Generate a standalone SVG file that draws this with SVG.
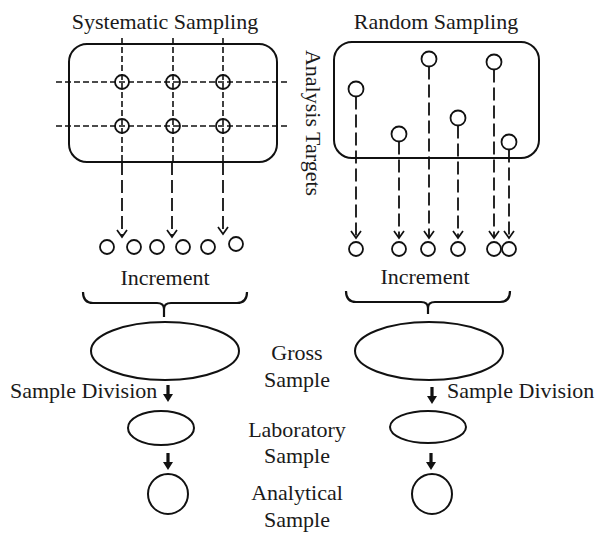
<svg xmlns="http://www.w3.org/2000/svg" xmlns:xlink="http://www.w3.org/1999/xlink" width="601" height="535" viewBox="0 0 601 535">
<style>
text{font-family:"Liberation Serif","Times New Roman",serif;font-size:22px;fill:#1a1a1a;}
.c{text-anchor:middle;}
.shape{fill:none;stroke:#111;stroke-width:2;}
.pt{fill:none;stroke:#111;stroke-width:1.8;}
.grid{fill:none;stroke:#111;stroke-width:1.6;stroke-dasharray:6 3;}
.drop{fill:none;stroke:#111;stroke-width:1.8;stroke-dasharray:13 5;marker-end:url(#open);}
.brace{fill:none;stroke:#111;stroke-width:2.2;}
</style>
<defs>
<marker id="open" viewBox="-9 -7 11 14" refX="0" refY="0" markerWidth="11" markerHeight="14" markerUnits="userSpaceOnUse" orient="auto">
<path d="M-7,-5 L0,0 L-7,5" fill="none" stroke="#111" stroke-width="1.7"/>
</marker>
<path id="thick" d="M-1.6,0 H1.6 V9 H5 L0,17 L-5,9 H-1.6 Z" fill="#111"/>
</defs>
<rect width="601" height="535" fill="#fff"/>

<g id="title-systematic"><text class="c" x="165" y="29">Systematic  Sampling</text></g>
<g id="title-random"><text class="c" x="436" y="29">Random Sampling</text></g>
<g id="label-analysis-targets"><text class="c" transform="translate(306,123) rotate(90)">Analysis  Targets</text></g>

<g id="sys-targets">
<rect class="shape" x="69" y="44" width="208" height="118" rx="18"/>
<line class="grid" x1="56" y1="82" x2="287" y2="82"/>
<line class="grid" x1="56" y1="126" x2="287" y2="126"/>
<line class="grid" x1="122" y1="38" x2="122" y2="162"/>
<line class="grid" x1="173" y1="38" x2="173" y2="162"/>
<line class="grid" x1="223" y1="38" x2="223" y2="162"/>
<circle class="pt" cx="122" cy="82" r="7"/>
<circle class="pt" cx="173" cy="82" r="7"/>
<circle class="pt" cx="223" cy="82" r="7"/>
<circle class="pt" cx="122" cy="126" r="7"/>
<circle class="pt" cx="173" cy="126" r="7"/>
<circle class="pt" cx="223" cy="126" r="7"/>
</g>

<g id="rand-targets">
<rect class="shape" x="334" y="42" width="205" height="116" rx="18"/>
<circle class="pt" cx="356" cy="89" r="7.5"/>
<circle class="pt" cx="399" cy="134" r="7.5"/>
<circle class="pt" cx="429" cy="59" r="7.5"/>
<circle class="pt" cx="458" cy="118" r="7.5"/>
<circle class="pt" cx="494" cy="62" r="7.5"/>
<circle class="pt" cx="509" cy="142" r="7.5"/>
</g>

<g id="sys-increments">
<circle class="pt" cx="107" cy="247" r="7"/>
<circle class="pt" cx="134" cy="247" r="7"/>
<circle class="pt" cx="157" cy="247" r="7"/>
<circle class="pt" cx="183" cy="247" r="7"/>
<circle class="pt" cx="208" cy="247" r="7"/>
<circle class="pt" cx="236" cy="244" r="7"/>
<text class="c" x="165" y="285">Increment</text>
</g>

<g id="rand-increments">
<circle class="pt" cx="356" cy="249" r="7"/>
<circle class="pt" cx="399" cy="249" r="7"/>
<circle class="pt" cx="428" cy="249" r="7"/>
<circle class="pt" cx="458" cy="249" r="7"/>
<circle class="pt" cx="494" cy="249" r="7"/>
<circle class="pt" cx="509" cy="249" r="7"/>
<text class="c" x="425" y="284">Increment</text>
</g>

<g id="sys-brace"><path class="brace" d="M83,292 Q83,303 93,303 H157 Q164,303 164,309 V317 M164,309 Q164,303 171,303 H237 Q247,303 247,292"/></g>
<g id="rand-brace"><path class="brace" d="M346,291 Q346,302 356,302 H421 Q428,302 428,308 V314 M428,308 Q428,302 435,302 H500 Q510,302 510,291"/></g>

<g id="sys-gross"><ellipse class="shape" cx="165" cy="351" rx="74" ry="29"/></g>
<g id="rand-gross"><ellipse class="shape" cx="429" cy="351" rx="74" ry="29"/></g>
<g id="sys-lab"><ellipse class="shape" cx="161" cy="428" rx="33" ry="17"/></g>
<g id="rand-lab"><ellipse class="shape" cx="428" cy="427" rx="38" ry="16"/></g>
<g id="sys-analytical"><circle class="shape" cx="168" cy="494" r="20"/></g>
<g id="rand-analytical"><circle class="shape" cx="432" cy="494" r="20"/></g>

<g id="labels">
<text class="c" x="297" y="360">Gross</text>
<text class="c" x="297" y="387">Sample</text>
<text class="c" x="297" y="437">Laboratory</text>
<text class="c" x="297" y="463">Sample</text>
<text class="c" x="297" y="500">Analytical</text>
<text class="c" x="297" y="527">Sample</text>
<text x="10" y="398">Sample Division</text>
<text x="447" y="398">Sample Division</text>
</g>

<g id="connectors">
<line class="drop" x1="122" y1="162" x2="122" y2="237"/>
<line class="drop" x1="172" y1="162" x2="172" y2="237"/>
<line class="drop" x1="223" y1="162" x2="223" y2="234"/>
<line class="drop" x1="356" y1="96.5" x2="356" y2="238"/>
<line class="drop" x1="399" y1="141.5" x2="399" y2="238"/>
<line class="drop" x1="429" y1="66.5" x2="429" y2="238"/>
<line class="drop" x1="458" y1="125.5" x2="458" y2="238"/>
<line class="drop" x1="494" y1="69.5" x2="494" y2="238"/>
<line class="drop" x1="509" y1="149.5" x2="509" y2="238"/>
<use xlink:href="#thick" x="168" y="385"/>
<use xlink:href="#thick" x="168" y="453"/>
<use xlink:href="#thick" x="432" y="387"/>
<use xlink:href="#thick" x="431" y="453"/>
</g>
</svg>
